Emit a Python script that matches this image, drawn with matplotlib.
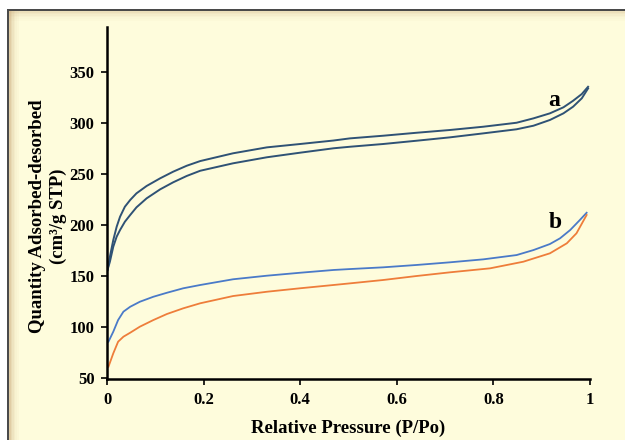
import matplotlib.pyplot as plt
from matplotlib.patches import Rectangle

# relative pressure P/Po and quantity adsorbed (cm3/g STP)
# sample a: desorption (upper) and adsorption (lower) branches
x_a = [0.001, 0.006, 0.013, 0.020, 0.027, 0.037, 0.048, 0.061, 0.082, 0.110, 0.137,
       0.165, 0.193, 0.261, 0.331, 0.400, 0.469, 0.503, 0.572, 0.641, 0.710, 0.779,
       0.848, 0.883, 0.917, 0.945, 0.965, 0.983, 0.996]
a_desorb = [156.0, 169.0, 185.3, 198.3, 208.1, 217.9, 224.5, 231.0, 238.2, 245.7, 252.2,
            258.0, 262.6, 270.2, 276.0, 279.3, 282.7, 284.8, 287.4, 290.3, 293.0, 296.2,
            300.1, 304.4, 309.3, 315.2, 321.6, 328.2, 335.3]
a_adsorb = [156.0, 164.1, 178.8, 188.6, 195.1, 203.2, 209.8, 217.3, 226.1, 234.9, 241.8,
            248.0, 253.1, 260.4, 266.3, 270.8, 275.1, 276.6, 279.3, 282.5, 285.8, 289.7,
            293.7, 297.2, 302.8, 309.3, 315.8, 324.0, 333.7]

# sample b
x_b_des = [0.003, 0.013, 0.023, 0.034, 0.048, 0.068, 0.096, 0.124, 0.158, 0.193, 0.261,
           0.331, 0.400, 0.469, 0.503, 0.572, 0.641, 0.710, 0.779, 0.848, 0.883, 0.917,
           0.938, 0.959, 0.979, 0.993]
b_desorb = [85.8, 95.6, 107.0, 115.2, 120.0, 124.9, 129.8, 133.7, 138.1, 141.3, 146.9,
            150.4, 153.3, 156.0, 156.9, 158.6, 160.9, 163.5, 166.4, 170.6, 175.5, 181.4,
            187.0, 195.1, 204.9, 212.0]

x_b_ads = [0.003, 0.013, 0.023, 0.034, 0.048, 0.068, 0.096, 0.124, 0.158, 0.193, 0.261,
           0.331, 0.400, 0.469, 0.503, 0.572, 0.641, 0.710, 0.793, 0.862, 0.917, 0.952,
           0.972, 0.993]
b_adsorb = [61.3, 74.4, 85.8, 90.7, 94.6, 100.5, 107.0, 112.9, 118.5, 123.4, 130.5,
            134.7, 138.1, 141.3, 142.9, 146.2, 150.1, 153.7, 157.6, 164.1, 172.3, 182.1,
            191.9, 209.8]

xticks = [0, 0.2, 0.4, 0.6, 0.8, 1]
xtick_labels = ['0', '0.2', '0.4', '0.6', '0.8', '1']
yticks = [50, 100, 150, 200, 250, 300, 350]

W, H = 625, 446
fig = plt.figure(figsize=(6.25, 4.46), dpi=100, facecolor='white')

# cream panel with dark border and soft shadow on left/top
bg = '#FEFCDC'
fig.patches.append(Rectangle((8 / W, 6 / H), (W - 8) / W, (H - 15) / H,
                             transform=fig.transFigure, facecolor=bg, edgecolor='none', zorder=-3))
for i, a in enumerate([0.55, 0.4, 0.28, 0.18, 0.1, 0.05]):
    fig.patches.append(Rectangle(((9 + i * 1.6) / W, 6 / H), 1.6 / W, (H - 16) / H,
                                 transform=fig.transFigure, facecolor='#C8A878', alpha=a,
                                 edgecolor='none', zorder=-2))
    fig.patches.append(Rectangle((9 / W, (H - 11 - (i + 1) * 1.6) / H), (W - 9) / W, 1.6 / H,
                                 transform=fig.transFigure, facecolor='#C8A878', alpha=a * 0.6,
                                 edgecolor='none', zorder=-2))
fig.patches.append(Rectangle((7 / W, 6 / H), 1.8 / W, (H - 15) / H, transform=fig.transFigure,
                             facecolor='#4A4A4A', edgecolor='none', zorder=-1))
fig.patches.append(Rectangle((7 / W, (H - 11) / H), (W - 7) / W, 2 / H, transform=fig.transFigure,
                             facecolor='#4A4A4A', edgecolor='none', zorder=-1))

ax = fig.add_axes([107 / W, (H - 379) / H, 483 / W, 352 / H])
ax.set_facecolor('none')

ax.plot(x_a, a_desorb, color='#2F5275', lw=1.4)
ax.plot(x_a, a_adsorb, color='#2F5275', lw=1.4)
ax.plot(x_b_des, b_desorb, color='#4A7AC8', lw=1.3)
ax.plot(x_b_ads, b_adsorb, color='#EE7D3A', lw=1.3)

font = 'Liberation Serif'
ax.text(0.925, 322, 'a', fontsize=17, fontweight='bold', family=font, ha='center', va='center')
ax.text(0.928, 202, 'b', fontsize=17, fontweight='bold', family=font, ha='center', va='center')

ax.set_xlim(0, 1)
ax.set_ylim(49.3, 393.8)
ax.set_xticks(xticks)
ax.set_xticklabels(xtick_labels)
ax.set_yticks(yticks)
for s in ['top', 'right']:
    ax.spines[s].set_visible(False)
for s in ['left', 'bottom']:
    ax.spines[s].set_linewidth(1.8)
    ax.spines[s].set_color('black')
ax.tick_params(direction='out', length=4, width=1.2, pad=5)
for lbl in ax.get_xticklabels() + ax.get_yticklabels():
    lbl.set_fontfamily(font)
    lbl.set_fontweight('bold')
    lbl.set_fontsize(12)

ax.set_xlabel('Relative Pressure (P/Po)', family=font, fontweight='bold', fontsize=13.5, labelpad=9)
ax.set_ylabel('Quantity Adsorbed-desorbed\n(cm\u00b3/g STP)', family=font, fontweight='bold',
              fontsize=13.5, linespacing=1.3)
ax.yaxis.set_label_coords(-0.082, 0.463)

fig.savefig('out.png', dpi=100, facecolor='white')
